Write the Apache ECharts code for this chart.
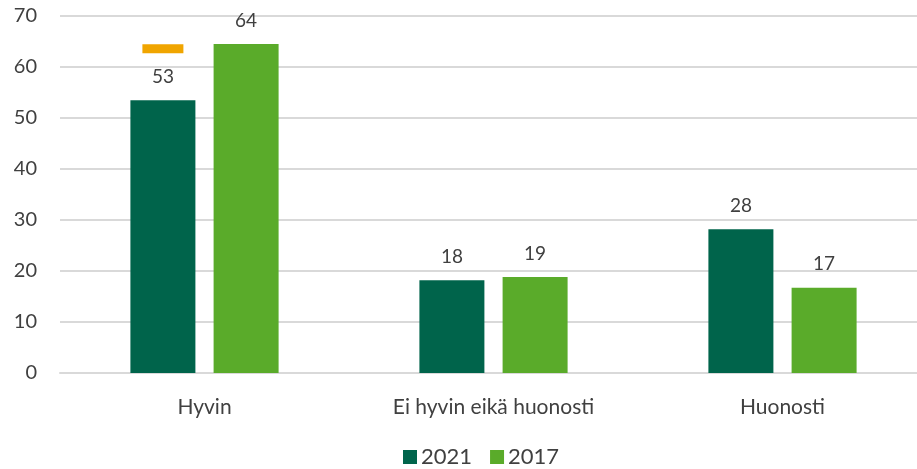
<!DOCTYPE html>
<html>
<head>
<meta charset="utf-8">
<script src="https://cdn.jsdelivr.net/npm/echarts@6/dist/echarts.min.js"></script>
<style>html,body{margin:0;padding:0;background:#fff}</style>
</head>
<body>
<div id="main" style="width:917px;height:469px;"></div>
<script>
// data
var categories = ['Hyvin', 'Ei hyvin eikä huonosti', 'Huonosti'];
var values2021 = [53.5, 18.2, 28.2];
var values2017 = [64.5, 18.8, 16.7];
var labels2021 = ['53', '18', '28'];
var labels2017 = ['64', '19', '17'];
var markerValue = 63.6; // orange dash over Hyvin 2021
var yTicks = [0, 70, 10];

var font = 'Lato, "Open Sans", sans-serif';
var myChart = echarts.init(document.getElementById('main'));

function lab(arr) {
    return {
        show: true,
        position: 'top',
        distance: 14,
        color: '#404040',
        fontSize: 19,
        fontFamily: font,
        formatter: function (p) { return arr[p.dataIndex]; }
    };
}

var option = {
    animation: false,
    grid: { left: 60, right: -10, top: 16, bottom: 96, containLabel: false, outerBoundsMode: 'none' },
    legend: {
        top: 446,
        left: 403,
        padding: 0,
        itemWidth: 14,
        itemHeight: 14,
        itemGap: 18,
        icon: 'rect',
        textStyle: { color: '#404040', fontSize: 22, fontFamily: font, padding: [0, 0, 0, -1] },
        data: ['2021', '2017']
    },
    xAxis: {
        type: 'category',
        data: categories,
        axisTick: { show: false },
        axisLine: { lineStyle: { color: '#d9d9d9', width: 2 } },
        axisLabel: { color: '#404040', fontSize: 21, fontFamily: font, margin: 24 }
    },
    yAxis: {
        type: 'value',
        min: yTicks[0],
        max: yTicks[1],
        interval: yTicks[2],
        axisLabel: { color: '#404040', fontSize: 20, fontFamily: font, margin: 23 },
        splitLine: { lineStyle: { color: '#d9d9d9', width: 2 } }
    },
    series: [
        {
            name: '2021',
            type: 'bar',
            barWidth: 65,
            barGap: '28%',
            itemStyle: { color: '#00644b' },
            label: lab(labels2021),
            data: values2021,
            markPoint: {
                symbol: 'rect',
                symbolSize: [41, 9],
                itemStyle: { color: '#f0a500' },
                label: { show: false },
                data: [{ coord: [categories[0], markerValue] }]
            }
        },
        {
            name: '2017',
            type: 'bar',
            barWidth: 65,
            itemStyle: { color: '#5aab2a' },
            label: lab(labels2017),
            data: values2017
        }
    ]
};
myChart.setOption(option);
</script>
</body>
</html>
